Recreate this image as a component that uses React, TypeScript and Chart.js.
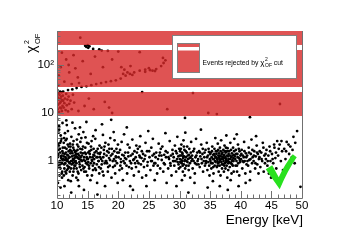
import React, { useEffect, useRef } from "react";
import { Chart, registerables } from "chart.js";
Chart.register(...registerables);

const FONT = '"Liberation Sans", Arial, Helvetica, sans-serif';

// Events passing the chi2 cut (energy keV, chi2_OF)
const acceptedEvents: [number, number][] = [
  [10.1,1.2],[10.2,0.8],[10.3,2.1],[10.4,0.5],[10.5,1.5],[10.6,3.4],[10.7,0.9],[10.8,1.1],[10.9,6.2],[10.15,0.35],[10.25,1.7],[10.35,4.5],[10.45,1.0],[10.55,0.7],[10.65,2.6],[10.75,1.3],[10.85,0.6],[10.95,1.9],[10.05,7.5],[10.12,1.4],[10.42,0.95],[10.62,1.25],[10.72,2.9],[10.82,0.45],[10.92,1.05],[10.33,5.3],[10.58,0.28],[10.18,2.3],[10.88,1.6],[10.5,0.85],
  [11.05,1.1],[11.1,2.4],[11.2,0.7],[11.25,1.4],[11.3,3.8],[11.35,0.9],[11.4,1.2],[11.5,0.55],[11.55,1.8],[11.6,5.6],[11.65,1.0],[11.7,0.8],[11.75,2.2],[11.8,1.3],[11.85,0.4],[11.9,1.6],[11.95,0.95],[11.15,3.0],[11.45,1.5],[11.62,0.65],[11.78,4.2],[11.88,1.15],[11.22,0.3],[11.52,7.0],[11.42,2.7],[11.68,1.35],[11.98,0.75],[11.32,1.05],
  [12.05,1.2],[12.1,0.6],[12.2,2.0],[12.3,1.0],[12.35,3.2],[12.4,0.85],[12.5,1.45],[12.55,0.5],[12.6,1.1],[12.7,2.6],[12.75,0.7],[12.8,1.3],[12.9,0.95],[12.95,4.8],[12.15,1.7],[12.25,0.38],[12.45,1.25],[12.65,1.9],[12.85,0.8],[12.52,6.3],[12.12,2.3],[12.72,1.05],[12.92,1.55],[12.32,0.22],[12.62,0.9],
  [13.05,1.0],[13.1,1.6],[13.2,0.7],[13.3,2.2],[13.4,1.15],[13.5,0.55],[13.55,3.6],[13.6,1.3],[13.7,0.85],[13.8,1.8],[13.9,1.05],[13.15,0.45],[13.25,2.8],[13.45,1.4],[13.65,0.95],[13.75,5.0],[13.85,1.2],[13.95,0.65],[13.35,1.7],[13.58,0.3],[13.82,2.5],[13.12,1.25],
  [14.05,1.3],[14.15,0.8],[14.25,2.0],[14.35,1.05],[14.45,0.6],[14.55,1.5],[14.65,3.1],[14.75,0.9],[14.85,1.2],[14.95,0.5],[14.1,1.75],[14.3,4.0],[14.5,0.75],[14.7,1.4],[14.9,2.4],[14.4,0.25],[14.6,1.0],[14.8,6.5],
  [15.05,1.1],[15.15,2.3],[15.25,0.7],[15.35,1.4],[15.5,0.9],[15.6,1.7],[15.7,0.5],[15.8,1.2],[15.9,3.3],[15.1,0.95],[15.3,1.6],[15.45,0.4],[15.65,2.6],[15.75,1.0],[15.85,0.8],[15.95,1.35],
  [16.05,0.9],[16.15,1.5],[16.25,2.9],[16.35,0.65],[16.45,1.2],[16.55,0.35],[16.65,1.8],[16.75,1.0],[16.85,0.75],[16.95,2.1],[16.1,1.3],[16.3,4.4],[16.5,0.85],[16.7,1.45],[16.9,0.55],[16.6,0.2],
  [17.05,1.2],[17.15,0.7],[17.25,1.9],[17.4,1.0],[17.5,3.5],[17.6,0.5],[17.7,1.4],[17.8,0.9],[17.9,2.4],[17.2,1.1],[17.45,0.6],[17.65,1.7],[17.85,0.3],[17.35,5.8],
  [18.05,1.0],[18.2,1.6],[18.3,0.6],[18.4,2.2],[18.5,1.15],[18.6,0.8],[18.7,3.0],[18.8,1.3],[18.9,0.45],[18.15,0.9],[18.55,1.8],[18.85,7.2],
  [19.05,1.4],[19.15,0.75],[19.3,1.1],[19.4,2.7],[19.5,0.55],[19.6,1.25],[19.7,1.8],[19.8,0.9],[19.9,0.35],[19.25,4.0],[19.55,1.0],[19.85,1.5],
  [20.05,1.2],[20.2,0.65],[20.3,1.7],[20.45,0.95],[20.55,2.5],[20.65,1.35],[20.75,0.4],[20.85,1.0],[20.95,3.6],[20.35,0.8],
  [21.05,0.9],[21.15,1.5],[21.3,1.1],[21.45,0.55],[21.55,2.2],[21.65,1.25],[21.75,0.75],[21.85,1.9],[21.95,0.3],[21.4,5.0],
  [22.05,1.3],[22.2,0.7],[22.3,2.8],[22.45,1.05],[22.55,0.5],[22.65,1.6],[22.75,0.9],[22.85,1.2],[22.95,2.1],[22.4,0.25],
  [23.1,1.0],[23.2,1.8],[23.35,0.6],[23.45,1.3],[23.6,3.3],[23.7,0.85],[23.8,1.15],[23.9,0.45],[23.5,2.0],
  [24.05,1.4],[24.2,0.75],[24.3,1.1],[24.45,2.4],[24.55,0.5],[24.7,1.6],[24.8,0.95],[24.9,4.2],[24.6,0.3],
  [25.1,1.2],[25.25,0.65],[25.4,1.9],[25.5,1.0],[25.65,2.9],[25.75,0.8],[25.85,1.4],[25.95,0.4],
  [26.05,0.9],[26.2,1.5],[26.35,0.55],[26.5,1.1],[26.6,2.3],[26.7,1.3],[26.85,0.7],[26.95,1.8],
  [27.1,1.05],[27.2,2.0],[27.35,0.6],[27.5,1.35],[27.6,0.85],[27.7,3.8],[27.8,1.2],[27.9,0.35],
  [28.05,1.5],[28.15,0.7],[28.3,1.1],[28.4,2.6],[28.5,0.9],[28.6,1.3],[28.7,0.5],[28.85,1.7],[28.95,1.0],
  [29.05,1.2],[29.15,0.8],[29.25,2.1],[29.35,1.0],[29.45,0.6],[29.55,1.45],[29.65,3.2],[29.7,0.95],[29.8,1.25],[29.9,0.7],[29.95,1.8],[29.5,0.3],
  [30.05,1.1],[30.1,1.6],[30.15,0.75],[30.25,1.3],[30.3,2.2],[30.35,0.9],[30.45,1.0],[30.5,1.4],[30.55,0.6],[30.6,1.15],[30.65,2.7],[30.7,0.85],[30.75,1.25],[30.8,1.7],[30.85,0.5],[30.9,1.05],[30.95,3.9],[30.4,0.4],
  [31.05,1.2],[31.1,0.8],[31.2,1.5],[31.25,2.0],[31.3,0.95],[31.4,1.1],[31.5,0.65],[31.55,1.35],[31.6,1.8],[31.7,0.9],[31.75,0.45],[31.8,1.2],[31.9,2.5],[31.95,1.0],[31.45,0.22],
  [32.05,1.3],[32.15,0.7],[32.3,1.0],[32.4,1.8],[32.5,0.55],[32.6,1.2],[32.7,2.9],[32.8,0.85],[32.9,1.5],[32.45,0.35],
  [33.05,1.1],[33.2,1.6],[33.3,0.75],[33.4,1.25],[33.55,2.2],[33.65,0.9],[33.75,1.4],[33.85,0.6],[33.95,1.0],[33.5,4.5],
  [34.05,1.2],[34.15,0.8],[34.25,1.7],[34.35,1.0],[34.45,2.4],[34.55,0.65],[34.65,1.3],[34.7,0.95],[34.8,1.55],[34.9,0.5],[34.95,1.1],[34.6,0.28],
  [35.05,1.0],[35.1,1.5],[35.2,0.7],[35.25,1.2],[35.35,2.0],[35.4,0.9],[35.5,1.35],[35.55,0.55],[35.6,1.1],[35.7,1.8],[35.75,0.8],[35.8,1.25],[35.85,3.0],[35.9,0.95],[35.95,1.6],[35.45,0.38],
  [36.05,1.15],[36.1,0.75],[36.15,1.6],[36.2,1.0],[36.25,2.3],[36.3,0.9],[36.35,1.3],[36.4,0.6],[36.45,1.45],[36.5,1.1],[36.55,0.8],[36.6,1.9],[36.65,1.05],[36.7,0.5],[36.75,1.25],[36.8,2.7],[36.85,0.95],[36.9,1.4],[36.95,0.7],[36.58,0.3],
  [37.05,1.2],[37.1,0.85],[37.15,1.7],[37.2,1.0],[37.25,0.6],[37.3,1.35],[37.35,2.1],[37.4,0.9],[37.45,1.15],[37.5,0.7],[37.55,1.5],[37.6,1.05],[37.65,3.4],[37.7,0.8],[37.75,1.3],[37.8,0.45],[37.85,1.85],[37.9,1.0],[37.95,0.65],[37.42,1.6],[37.62,0.95],[37.88,0.25],
  [38.05,1.1],[38.1,1.6],[38.2,0.75],[38.25,1.3],[38.3,2.4],[38.4,0.9],[38.45,1.2],[38.5,0.55],[38.55,1.45],[38.6,1.0],[38.7,0.8],[38.75,1.9],[38.8,1.15],[38.85,0.6],[38.9,1.35],[38.95,2.9],[38.35,0.4],[38.65,1.05],
  [39.05,1.25],[39.15,0.8],[39.2,1.7],[39.3,1.0],[39.4,0.6],[39.45,1.4],[39.55,2.2],[39.6,0.9],[39.7,1.15],[39.75,0.5],[39.8,1.6],[39.9,0.95],[39.95,1.3],[39.35,3.6],[39.65,0.3],
  [40.05,1.1],[40.15,1.7],[40.25,0.7],[40.35,1.3],[40.45,0.95],[40.55,2.5],[40.65,1.0],[40.75,0.55],[40.85,1.45],[40.95,0.85],[40.5,1.2],[40.8,0.35],
  [41.05,1.3],[41.2,0.8],[41.3,1.9],[41.4,1.05],[41.55,0.6],[41.65,1.4],[41.75,2.8],[41.85,0.9],[41.95,1.2],[41.5,0.4],
  [42.1,1.0],[42.2,1.6],[42.35,0.7],[42.45,1.25],[42.6,2.1],[42.7,0.85],[42.8,1.4],[42.9,0.55],[42.5,3.3],
  [43.05,1.2],[43.2,0.75],[43.35,1.5],[43.5,1.0],[43.6,2.4],[43.75,0.6],[43.85,1.3],[43.95,0.9],
  [44.1,1.1],[44.2,1.7],[44.35,0.8],[44.5,1.3],[44.6,0.55],[44.7,2.0],[44.85,1.0],[44.95,0.45],
  [45.1,1.4],[45.3,0.9],[45.5,1.9],[45.65,1.15],[45.8,0.7],[45.95,2.6],
  [46.1,1.3],[46.35,2.2],[46.55,1.0],[46.75,1.6],[46.9,0.65],
  [47.1,1.8],[47.3,1.1],[47.5,2.5],[47.7,0.75],[47.9,1.4],
  [48.1,2.0],[48.35,1.2],[48.6,3.2],[48.8,0.9],
  [49.2,4.2],[49.75,0.29],
  [10.08,0.95],[10.22,1.35],[10.38,0.75],[10.48,1.8],[10.68,1.15],[10.78,0.55],[10.98,1.45],[10.28,3.9],[10.52,2.4],[10.85,0.9],
  [11.08,1.25],[11.18,0.85],[11.28,1.9],[11.38,0.6],[11.48,1.1],[11.58,2.9],[11.72,1.05],[11.82,0.7],[11.92,2.0],[11.12,0.5],
  [12.08,0.9],[12.18,1.45],[12.28,0.7],[12.38,1.6],[12.48,1.0],[12.58,2.2],[12.68,0.6],[12.78,1.7],[12.88,1.15],[12.98,0.8],
  [13.08,1.4],[13.18,0.9],[13.28,1.2],[13.38,0.6],[13.48,2.0],[13.62,1.1],[13.72,0.75],[13.88,1.5],[13.98,3.0],[13.42,0.4],
  [14.08,1.0],[14.22,1.45],[14.32,0.7],[14.42,1.2],[14.62,1.9],[14.72,0.6],[14.88,1.1],[14.98,0.85],
  [15.08,1.5],[15.22,0.8],[15.38,1.2],[15.55,2.0],[15.68,1.05],[15.88,0.65],[15.98,1.8],
  [16.08,1.1],[16.22,0.7],[16.42,1.6],[16.62,1.2],[16.82,1.0],[16.98,1.4],
  [17.1,1.5],[17.3,0.85],[17.55,1.2],[17.75,2.0],[17.95,1.0],
  [18.1,1.3],[18.35,0.75],[18.45,1.5],[18.65,1.05],[18.95,1.8],
  [19.1,1.0],[19.35,1.6],[19.45,0.8],[19.65,1.2],[19.95,2.2],
  [20.1,1.5],[20.4,1.1],[20.6,0.7],[20.9,1.3],
  [21.1,1.15],[21.35,0.8],[21.6,1.5],[21.9,1.0],
  [22.1,0.9],[22.35,1.4],[22.6,1.1],[22.9,0.75],
  [23.05,1.5],[23.3,0.9],[23.55,1.2],[23.85,1.6],
  [24.1,1.0],[24.4,1.3],[24.75,0.8],
  [25.05,1.6],[25.35,1.0],[25.6,1.3],[25.9,0.9],
  [26.1,1.2],[26.45,0.8],[26.8,1.5],
  [27.05,1.3],[27.45,0.9],[27.75,1.6],
  [28.2,1.2],[28.55,0.8],[28.9,1.4],
  [29.1,1.0],[29.4,1.6],[29.6,1.1],[29.85,0.85],
  [30.02,1.3],[30.12,0.95],[30.22,1.8],[30.32,1.05],[30.42,1.5],[30.52,0.8],[30.62,1.25],[30.72,2.0],[30.82,1.0],[30.92,0.7],
  [31.02,1.6],[31.15,1.0],[31.35,1.3],[31.48,0.8],[31.65,1.15],[31.85,1.5],
  [32.1,1.1],[32.25,1.6],[32.55,0.9],[32.75,1.3],[32.95,1.0],
  [33.1,0.85],[33.35,1.5],[33.6,1.1],[33.8,1.8],
  [34.1,1.5],[34.3,0.9],[34.5,1.2],[34.75,1.8],[34.85,0.8],
  [35.02,1.4],[35.15,0.9],[35.3,1.6],[35.42,1.1],[35.52,0.75],[35.65,1.4],[35.78,1.0],[35.92,1.2],
  [36.02,1.4],[36.12,1.1],[36.22,0.8],[36.32,1.7],[36.42,1.2],[36.52,0.95],[36.62,1.3],[36.72,1.6],[36.82,1.1],[36.92,0.85],
  [37.02,1.5],[37.12,1.1],[37.22,1.3],[37.32,0.8],[37.48,1.2],[37.58,1.9],[37.68,1.1],[37.78,1.6],[37.92,1.25],[37.98,0.9],
  [38.02,1.4],[38.15,0.95],[38.28,1.1],[38.42,1.7],[38.58,0.85],[38.68,1.3],[38.82,1.0],[38.92,1.6],
  [39.1,1.1],[39.25,1.4],[39.38,0.8],[39.5,1.2],[39.68,1.8],[39.85,1.05],
  [40.1,1.4],[40.3,1.0],[40.6,1.6],[40.9,1.2],
  [41.1,1.0],[41.35,1.5],[41.6,1.1],[41.9,1.7],
  [42.15,1.3],[42.4,0.9],[42.65,1.5],[42.95,1.1],
  [43.1,1.6],[43.4,1.1],[43.7,1.9],
  [44.05,1.4],[44.4,1.0],[44.8,1.6],
  [45.2,1.1],[45.45,2.2],[45.75,1.5],
  [46.2,1.8],[46.65,2.6],[47.4,1.6],[47.8,2.2],[48.45,1.7],[48.9,2.4]
];

// Events rejected by the chi2 cut
const rejectedEvents: [number, number][] = [
  [10.1,12],[10.2,15],[10.3,19],[10.4,24],[10.5,13],[10.6,17],[10.7,22],[10.8,11],[10.9,14],[11.0,18],[10.15,21],[10.25,26],[10.35,10.5],[10.45,16],[10.55,20],[10.65,12.5],[10.75,27],[10.85,18.5],[10.95,23],[11.1,13],[11.2,16],[11.3,20],[11.4,11.5],[11.5,25],[11.6,14.5],[11.7,19],[11.8,10.8],[11.9,22],[12.0,15.5],[12.2,18],[12.4,12],[12.6,24],[12.8,16.5],[10.05,30],[10.5,28],
  [11.0,28],[11.8,30],[12.5,31],[13.2,33],[14.0,35],[14.8,36],[15.6,38],[16.4,40],[17.2,42],[18.0,44],[18.8,46],[19.6,48],[20.4,52],[21.2,60],[21.9,65],[22.6,70],[23.5,76],[24.4,72],[25.2,78],[26.0,75],[27.0,95],[27.4,110],[27.7,125],
  [14.6,250],[14.8,238],[15.0,258],[15.1,228],[15.3,245],[15.9,215],[16.9,212],[17.3,200],[18.3,196],[20.0,190],[23.5,185],
  [10.3,60],[10.6,90],[11.2,45],[11.5,130],[12.0,70],[12.7,160],[13.4,55],[10.8,180],[11.9,100],[13.0,85],[12.4,40],[10.2,38],[14.2,120],[15.5,65],[16.2,150],[17.5,90],[19.0,130],[13.6,42],[13.8,370],
  [20.5,90],[21.0,80],[21.5,70],[22.0,95],[22.3,62],[20.8,65],[24.4,80],[25.0,86],[25.6,76],[26.2,82],[27.3,140],
  [23.9,27.3],[32.2,26],[46.4,15.4],[28.0,12],[34.7,10],[36.1,9.5],[41.5,8.2],[30.9,7.9],
  [13.5,11],[14.5,14],[16.0,12],[17.8,17],[19.0,10],[15.2,20],[18.5,13]
];

const xRange = [10, 50];
const yRange = [0.17, 510];
const xTickValues = [10, 15, 20, 25, 30, 35, 40, 45, 50];
const xMinorValues = [11,12,13,14,16,17,18,19,21,22,23,24,26,27,28,29,31,32,33,34,36,37,38,39,41,42,43,44,46,47,48,49];
const yTickValues = [0.2,0.3,0.4,0.5,0.6,0.7,0.8,0.9,1,2,3,4,5,6,7,8,9,10,20,30,40,50,60,70,80,90,100,200,300,400,500];
const yMajorValues = [1, 10, 100];
const yMajorLabels = ["1", "10", "10²"];
const cutBands: [number, number][] = [[8.66, 27.4], [34.8, 205], [261, 510]];
const xTitle = "Energy [keV]";
const legendMain = "Events rejected by ";
const legendEnd = " cut";

const BAND = "rgba(215,40,40,0.8)";

const decor = {
  id: "decor",
  afterDatasetsDraw(chart: any) {
    const { ctx, chartArea: a, scales } = chart;
    const x = scales.x, y = scales.y;
    ctx.save();
    // rejected bands
    ctx.fillStyle = BAND;
    for (const [lo, hi] of cutBands) {
      const y1 = y.getPixelForValue(hi), y2 = y.getPixelForValue(lo);
      ctx.fillRect(a.left, Math.max(a.top, y1), a.right - a.left, y2 - Math.max(a.top, y1));
    }
    // frame
    ctx.strokeStyle = "#707070";
    ctx.lineWidth = 1;
    ctx.beginPath();
    ctx.moveTo(Math.round(a.left) + 0.5, a.top);
    ctx.lineTo(Math.round(a.left) + 0.5, Math.round(a.bottom) + 0.5);
    ctx.lineTo(Math.round(a.right) + 0.5, Math.round(a.bottom) + 0.5);
    ctx.lineTo(Math.round(a.right) + 0.5, a.top);
    ctx.stroke();
    // ticks
    ctx.beginPath();
    const xt = (v: number, len: number) => {
      const px = Math.round(x.getPixelForValue(v)) + 0.5;
      ctx.moveTo(px, a.bottom);
      ctx.lineTo(px, a.bottom - len);
    };
    xTickValues.forEach((v) => xt(v, 7));
    xMinorValues.forEach((v) => xt(v, 3.5));
    yTickValues.forEach((v) => {
      const py = Math.round(y.getPixelForValue(v)) + 0.5;
      const len = yMajorValues.includes(v) ? 7 : 3.5;
      ctx.moveTo(a.left, py);
      ctx.lineTo(a.left + len, py);
    });
    ctx.stroke();

    // legend
    const lx = 172.5, ly = 35.5, lw = 124, lh = 43;
    ctx.fillStyle = "#fff";
    ctx.fillRect(lx, ly, lw, lh);
    ctx.strokeStyle = "#808080";
    ctx.strokeRect(lx, ly, lw, lh);
    const sx = 177, sy = 43, sw = 22, sh = 29;
    ctx.fillStyle = BAND;
    ctx.fillRect(sx, sy, sw, sh);
    ctx.fillStyle = "#fff";
    ctx.fillRect(sx, sy + 4, sw, 3.5);
    ctx.strokeStyle = "#808080";
    ctx.strokeRect(sx + 0.5, sy + 0.5, sw, sh);
    ctx.fillStyle = "#000";
    ctx.textBaseline = "alphabetic";
    ctx.textAlign = "left";
    let tx = 202.5;
    const tb = 65;
    ctx.font = `6.8px ${FONT}`;
    ctx.fillText(legendMain, tx, tb);
    tx += ctx.measureText(legendMain).width;
    ctx.font = `8px ${FONT}`;
    ctx.fillText("χ", tx, tb);
    tx += ctx.measureText("χ").width + 0.5;
    ctx.font = `5px ${FONT}`;
    ctx.fillText("2", tx, tb - 4);
    ctx.fillText("OF", tx, tb + 2);
    tx += ctx.measureText("OF").width;
    ctx.font = `6.8px ${FONT}`;
    ctx.fillText(legendEnd, tx, tb);

    // check mark anchored at a data position
    const cx = x.getPixelForValue(46.2), cy = y.getPixelForValue(0.27);
    ctx.fillStyle = "rgb(40,225,30)";
    ctx.beginPath();
    ctx.moveTo(cx - 13, cy - 19);
    ctx.lineTo(cx - 6.5, cy - 23);
    ctx.lineTo(cx, cy - 11);
    ctx.quadraticCurveTo(cx + 6, cy - 24, cx + 14, cy - 34);
    ctx.lineTo(cx + 18, cy - 31);
    ctx.quadraticCurveTo(cx + 9, cy - 18, cx + 1, cy + 1);
    ctx.closePath();
    ctx.fill();
    ctx.restore();
  },
  afterDraw(chart: any) {
    const { ctx, chartArea: a } = chart;
    ctx.save();
    ctx.fillStyle = "#000";
    ctx.font = `13.5px ${FONT}`;
    ctx.textAlign = "right";
    ctx.textBaseline = "middle";
    ctx.fillText(xTitle, a.right + 1, 220);
    // y title chi^2_OF rotated
    ctx.translate(35.5, 53);
    ctx.rotate(-Math.PI / 2);
    ctx.textAlign = "left";
    ctx.textBaseline = "alphabetic";
    ctx.font = `14px ${FONT}`;
    ctx.fillText("χ", 0, 0);
    ctx.font = `7px ${FONT}`;
    ctx.fillText("2", 9, -6.5);
    ctx.font = `7.5px ${FONT}`;
    ctx.fillText("OF", 9, 4.5);
    ctx.restore();
  },
};

export default function App() {
  const ref = useRef<HTMLCanvasElement>(null);
  useEffect(() => {
    document.body.style.margin = "0";
    const canvas = ref.current!;
    const chart = new Chart(canvas, {
      type: "scatter",
      data: {
        datasets: [
          {
            label: "accepted",
            data: acceptedEvents.map(([e, c]) => ({ x: e, y: c })),
            backgroundColor: "#000",
            borderWidth: 0,
            pointRadius: 1.4,
          },
          {
            label: "rejected",
            data: rejectedEvents.map(([e, c]) => ({ x: e, y: c })),
            backgroundColor: "#000",
            borderWidth: 0,
            pointRadius: 1.4,
          },
        ],
      },
      options: {
        animation: false,
        responsive: false,
        devicePixelRatio: 1,
        layout: { padding: { top: 31, right: 42, left: 0, bottom: 0 } },
        plugins: { legend: { display: false }, tooltip: { enabled: false } },
        events: [],
        scales: {
          x: {
            type: "linear",
            min: xRange[0],
            max: xRange[1],
            afterBuildTicks: (s: any) => {
              s.ticks = xTickValues.map((v) => ({ value: v }));
            },
            ticks: {
              font: { family: FONT, size: 11.5 },
              color: "#000",
              padding: 1,
              maxRotation: 0,
              autoSkip: false,
            },
            grid: { display: false, drawTicks: false },
            border: { display: false },
            afterFit: (s: any) => {
              s.height = 45;
            },
          },
          y: {
            type: "logarithmic",
            min: yRange[0],
            max: yRange[1],
            afterBuildTicks: (s: any) => {
              s.ticks = yTickValues.map((v) => ({ value: v }));
            },
            ticks: {
              font: { family: FONT, size: 11.5 },
              color: "#000",
              padding: 3,
              autoSkip: false,
              callback: (v: any) => {
                const i = yMajorValues.indexOf(Number(v));
                return i >= 0 ? yMajorLabels[i] : "";
              },
            },
            grid: { display: false, drawTicks: false },
            border: { display: false },
            afterFit: (s: any) => {
              s.width = 57;
            },
          },
        },
      },
      plugins: [decor],
    });
    return () => chart.destroy();
  }, []);
  return (
    <div style={{ width: 344, height: 243 }}>
      <canvas ref={ref} width={344} height={243} style={{ display: "block" }} />
    </div>
  );
}
